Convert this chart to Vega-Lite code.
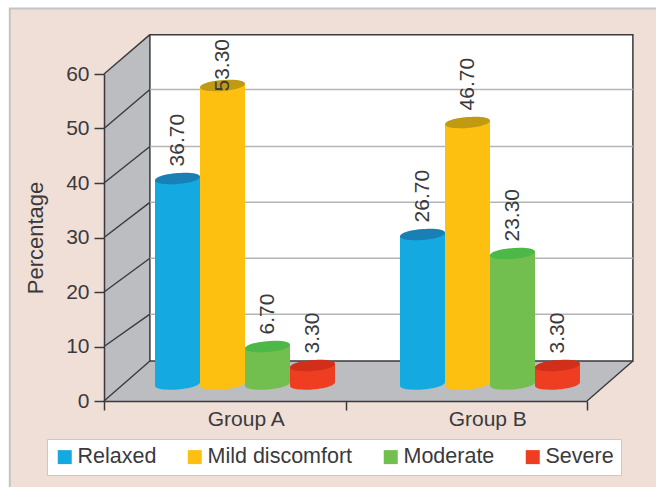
{
  "$schema": "https://vega.github.io/schema/vega-lite/v6.json",
  "autosize": "none",
  "padding": {"left": 104, "top": 74, "right": 69, "bottom": 86},
  "width": 483,
  "height": 327,
  "background": "#ffffff",
  "config": {
    "view": {"stroke": null},
    "font": "Liberation Sans",
    "axis": {"labelFont": "Liberation Sans", "titleFont": "Liberation Sans", "labelColor": "#3a3a3c", "titleColor": "#3a3a3c", "labelFontSize": 21, "titleFontSize": 22, "titleFontWeight": "normal", "domainColor": "#3a3a3c", "tickColor": "#3a3a3c", "domainWidth": 1.5, "tickWidth": 1.5},
    "legend": {"labelFont": "Liberation Sans", "labelColor": "#3a3a3c", "labelFontSize": 21.5}
  },
  "datasets": {
    "sideWall": [{"depth": 0, "low": 0, "high": 60}, {"depth": 0.19, "low": 7.33, "high": 67.22}],
    "floor": [{"level": 0, "left": 0, "right": 2}, {"level": 7.33, "left": 0.19, "right": 2.19}],
    "levels": [
      {"tick": 0, "back": 7.33}, {"tick": 10, "back": 15.93}, {"tick": 20, "back": 26.19},
      {"tick": 30, "back": 36.45}, {"tick": 40, "back": 46.7}, {"tick": 50, "back": 57.14}, {"tick": 60, "back": 67.22}
    ],
    "groups": [{"group": "Group A"}, {"group": "Group B"}],
    "results": [
      {"group": "Group A", "level": "Relaxed", "value": 36.7},
      {"group": "Group A", "level": "Mild discomfort", "value": 53.3},
      {"group": "Group A", "level": "Moderate", "value": 6.7},
      {"group": "Group A", "level": "Severe", "value": 3.3},
      {"group": "Group B", "level": "Relaxed", "value": 26.7},
      {"group": "Group B", "level": "Mild discomfort", "value": 46.7},
      {"group": "Group B", "level": "Moderate", "value": 23.3},
      {"group": "Group B", "level": "Severe", "value": 3.3}
    ]
  },
  "resolve": {"scale": {"x": "independent", "y": "independent", "color": "independent"}, "axis": {"x": "independent", "y": "independent"}},
  "layer": [
    {
      "layer": [
        {
          "data": {"values": [{"from": -0.39, "to": 2.4, "low": -20, "high": 72}]},
          "mark": {"type": "rect", "fill": "#f0dfd7", "stroke": "#c4c4c6", "strokeWidth": 2},
          "encoding": {
            "x": {"field": "from", "type": "quantitative", "scale": {"domain": [0, 2], "range": [0, 483]}, "axis": null},
            "x2": {"field": "to"},
            "y": {"field": "low", "type": "quantitative", "scale": {"domain": [0, 60], "range": [327, 0]}, "axis": null},
            "y2": {"field": "high"}
          }
        },
        {
          "data": {"name": "sideWall"},
          "mark": {"type": "area", "fill": "#bcbdc0"},
          "encoding": {
            "x": {"field": "depth", "type": "quantitative", "axis": null},
            "y": {"field": "low", "type": "quantitative", "axis": null},
            "y2": {"field": "high"}
          }
        },
        {
          "data": {"name": "floor"},
          "mark": {"type": "area", "orient": "horizontal", "fill": "#bcbdc0"},
          "encoding": {
            "y": {"field": "level", "type": "quantitative", "axis": null},
            "x": {"field": "left", "type": "quantitative", "axis": null},
            "x2": {"field": "right"}
          }
        },
        {
          "data": {"values": [{"from": 0.19, "to": 2.19, "low": 7.33, "high": 67.22}]},
          "mark": {"type": "rect", "fill": "#ffffff", "stroke": "#3a3a3c", "strokeWidth": 1.5},
          "encoding": {
            "x": {"field": "from", "type": "quantitative", "axis": null},
            "x2": {"field": "to"},
            "y": {"field": "low", "type": "quantitative", "axis": null},
            "y2": {"field": "high"}
          }
        },
        {
          "data": {"name": "levels"},
          "transform": [{"filter": "datum.tick > 0 && datum.tick < 60"}],
          "mark": {"type": "rule", "stroke": "#b4b5b9", "strokeWidth": 1.5},
          "encoding": {
            "x": {"datum": 0.19, "type": "quantitative", "axis": null},
            "x2": {"datum": 2.19},
            "y": {"field": "back", "type": "quantitative", "axis": null}
          }
        },
        {
          "data": {"name": "levels"},
          "mark": {"type": "rule", "stroke": "#3a3a3c", "strokeWidth": 1.4},
          "encoding": {
            "x": {"datum": 0, "type": "quantitative", "axis": null},
            "x2": {"datum": 0.19},
            "y": {"field": "tick", "type": "quantitative", "axis": null},
            "y2": {"field": "back"}
          }
        },
        {
          "data": {"values": [{"from": 2, "to": 2.19, "low": 0, "high": 7.33}]},
          "mark": {"type": "rule", "stroke": "#3a3a3c", "strokeWidth": 1.4},
          "encoding": {
            "x": {"field": "from", "type": "quantitative", "axis": null},
            "x2": {"field": "to"},
            "y": {"field": "low", "type": "quantitative", "axis": null},
            "y2": {"field": "high"}
          }
        }
      ]
    },
    {
      "data": {"name": "groups"},
      "mark": {"type": "rule", "strokeWidth": 0},
      "encoding": {
        "x": {
          "field": "group",
          "type": "nominal",
          "scale": {"domain": ["Group A", "Group B"], "range": [0, 483], "paddingInner": 0, "paddingOuter": 0},
          "axis": {"title": null, "labelAngle": 0, "tickBand": "extent", "tickSize": 9, "labelOffset": 21, "labelPadding": -2, "zindex": 1}
        },
        "y": {
          "datum": 0,
          "type": "quantitative",
          "scale": {"domain": [0, 60], "range": [327, 0]},
          "axis": {"title": "Percentage", "values": [0, 10, 20, 30, 40, 50, 60], "grid": false, "tickSize": 10, "labelPadding": 5, "titlePadding": 18, "zindex": 1}
        }
      }
    },
    {
      "data": {"name": "results"},
      "resolve": {"scale": {"color": "independent"}},
      "encoding": {
        "x": {"field": "group", "type": "nominal", "scale": {"domain": ["Group A", "Group B"], "range": [18.5, 508.5], "paddingInner": 0, "paddingOuter": 0}, "axis": null},
        "xOffset": {"field": "level", "type": "nominal", "scale": {"domain": ["Relaxed", "Mild discomfort", "Moderate", "Severe"], "range": [32.5, 212.5], "paddingInner": 0, "paddingOuter": 0}},
        "y": {"field": "value", "type": "quantitative", "stack": null, "scale": {"domain": [0, 60], "range": [310, -26]}, "axis": null}
      },
      "layer": [
        {
          "mark": {"type": "bar", "yOffset": 4, "y2Offset": -4},
          "encoding": {
            "y2": {"datum": 0},
            "color": {
              "field": "level",
              "type": "nominal",
              "scale": {"domain": ["Relaxed", "Mild discomfort", "Moderate", "Severe"], "range": ["#14a9e1", "#fdc010", "#72bf50", "#ee3d20"]},
              "legend": {"title": null, "orient": "none", "legendX": -57, "legendY": 365, "direction": "horizontal", "columns": 4, "columnPadding": 27, "symbolType": "square", "symbolSize": 196, "symbolStrokeWidth": 0, "labelOffset": 2, "fillColor": "#ffffff", "strokeColor": "#c8c9ce", "padding": 7}
            }
          }
        },
        {
          "mark": {"type": "point", "filled": true, "opacity": 1, "size": 2025, "shape": "M-1,-.2L1,-.2L1,-.08C1,.24,-1,.4,-1,.08Z"},
          "encoding": {
            "y": {"datum": 0, "type": "quantitative"},
            "color": {"field": "level", "type": "nominal", "scale": {"domain": ["Relaxed", "Mild discomfort", "Moderate", "Severe"], "range": ["#14a9e1", "#fdc010", "#72bf50", "#ee3d20"]}, "legend": null}
          }
        },
        {
          "mark": {"type": "point", "filled": true, "opacity": 1, "size": 2025, "shape": "M-1,.08L1,-.08L1,.22L-1,.22Z"},
          "encoding": {
            "color": {"field": "level", "type": "nominal", "scale": {"domain": ["Relaxed", "Mild discomfort", "Moderate", "Severe"], "range": ["#14a9e1", "#fdc010", "#72bf50", "#ee3d20"]}, "legend": null}
          }
        },
        {
          "mark": {"type": "point", "filled": true, "opacity": 1, "size": 2025, "shape": "M-1,.08C-1,-.24,1,-.4,1,-.08C1,.24,-1,.4,-1,.08Z"},
          "encoding": {
            "color": {"field": "level", "type": "nominal", "scale": {"domain": ["Relaxed", "Mild discomfort", "Moderate", "Severe"], "range": ["#1a7fb5", "#c09a12", "#4db848", "#d12f1a"]}, "legend": null}
          }
        },
        {
          "transform": [{"filter": "datum.value < 50"}],
          "mark": {"type": "text", "angle": 270, "align": "left", "baseline": "middle", "fontSize": 21, "fill": "#3a3a3c", "yOffset": -12},
          "encoding": {"text": {"field": "value", "type": "quantitative", "format": ".2f"}}
        },
        {
          "transform": [{"filter": "datum.value >= 50"}],
          "mark": {"type": "text", "angle": 270, "align": "left", "baseline": "middle", "fontSize": 21, "fill": "#3a3a3c", "yOffset": 6},
          "encoding": {"text": {"field": "value", "type": "quantitative", "format": ".2f"}}
        }
      ]
    }
  ]
}
